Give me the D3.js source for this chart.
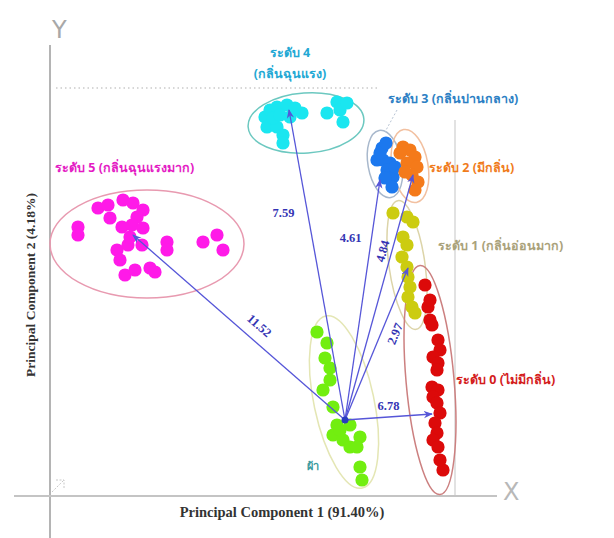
<!DOCTYPE html>
<html>
<head>
<meta charset="utf-8">
<script src="https://cdn.jsdelivr.net/npm/d3@7"></script>
<style>
  html, body { margin: 0; padding: 0; background: #fff; }
  svg { display: block; }
  .thai { font-family: "Noto Sans", "DejaVu Sans", sans-serif; font-weight: bold; }
</style>
</head>
<body>
<svg id="chart" width="614" height="538"></svg>
<script>
// PCA score plot: odour levels of the samples, with distances from the cloth cluster

const groups = ["ระดับ 5", "ระดับ 4", "ระดับ 3", "ระดับ 2", "ระดับ 1", "ระดับ 0", "ผ้า"];
const groupLabels = [
  "ระดับ 5 (กลิ่นฉุนแรงมาก)",
  "ระดับ 4|(กลิ่นฉุนแรง)",
  "ระดับ 3 (กลิ่นปานกลาง)",
  "ระดับ 2 (มีกลิ่น)",
  "ระดับ 1 (กลิ่นอ่อนมาก)",
  "ระดับ 0 (ไม่มีกลิ่น)",
  "ผ้า"
];

// scores [PC1, PC2] per group
const level5 = [[-24.7,21.2],[-23.7,21.5],[-23.5,20.2],[-22.2,22.0],[-21.2,21.7],[-20.2,21.0],[-20.8,20.3],
  [-22.3,19.3],[-21.3,19.5],[-20.2,19.2],[-26.7,19.3],[-26.7,18.5],[-22.8,17.0],[-21.7,17.5],[-20.3,17.5],
  [-22.5,16.0],[-22.0,14.5],[-21.0,15.0],[-19.5,15.2],[-19.0,14.8],[-17.8,17.8],[-17.8,17.0],[-14.2,17.8],
  [-12.8,18.5],[-12.2,17.0],[-21.5,18.3]];
const level4 = [[-8.0,30.3],[-7.5,31.0],[-6.8,31.3],[-5.8,31.5],[-5.5,30.3],[-4.3,30.7],[-7.8,29.3],
  [-6.8,29.3],[-6.2,28.5],[-6.2,27.7],[-7.2,30.2],[-1.8,30.7],[-0.8,31.8],[-0.5,31.0],[-0.2,29.8],
  [0.2,31.7],[-5.0,31.2],[-6.5,30.5]];
const level3 = [[3.7,27.2],[3.2,26.0],[3.8,26.0],[4.5,25.7],[4.2,25.0],[4.8,24.3],[4.7,23.3],[3.5,26.7],
  [4.0,24.2],[5.0,25.3],[4.1,27.7]];
const level2 = [[5.8,27.3],[6.5,27.0],[7.0,26.3],[6.2,25.7],[7.2,25.3],[6.7,24.5],[7.3,23.8],[7.0,23.0],
  [5.5,26.7],[6.0,24.8]];
const level1 = [[4.8,20.7],[6.2,20.3],[6.8,19.8],[5.8,18.3],[6.2,17.5],[5.7,16.3],[6.2,15.3],[6.3,14.3],
  [6.3,12.3],[6.7,11.3],[7.0,10.7],[6.5,13.3]];
const level0 = [[8.0,13.5],[8.3,11.3],[8.5,10.0],[8.7,9.5],[9.3,8.0],[9.5,7.0],[8.8,6.3],[9.3,5.7],
  [9.2,5.0],[8.7,3.3],[9.3,3.0],[8.8,2.3],[9.2,1.7],[9.5,0.7],[9.0,-0.3],[9.2,-1.3],[8.8,-2.0],
  [9.3,-2.7],[9.8,-5.0],[9.5,-4.0],[8.5,12.0]];
const cloth = [[-2.8,8.8],[-1.8,7.7],[-2.0,6.2],[-1.5,5.2],[-1.5,4.0],[-1.2,1.3],[-0.8,-0.5],[-1.2,-1.5],
  [0.5,-0.5],[1.5,-1.7],[-0.2,-2.0],[0.5,-2.7],[1.2,-2.7],[1.5,-4.7],[1.7,-6.0],[-0.5,-1.0],[-2.2,3.0]];

// cluster centres used as arrow targets, and distance of each level from the cloth cluster
const centroids = [[-21.2,18.5],[-5.6,31.0],[3.5,24.0],[6.8,24.5],[6.3,15.2],[8.7,0.6]];
const clothCentre = [0, 0];
const distances = ["11.52", "7.59", "4.61", "4.84", "2.97", "6.78"];

// enclosing ellipses: centre, radii (score units), tilt in degrees
const ellipses = [
  [[-19.8,17.6], 9.7, 5.4, 0],
  [[-3.9,29.7], 5.8, 3.0, -4],
  [[4.0,25.6], 1.7, 3.4, -10],
  [[6.5,25.4], 1.8, 3.7, -10],
  [[6.2,15.5], 1.8, 6.5, -8],
  [[8.5,4.0], 2.4, 11.5, -5],
  [[-0.1,1.8], 3.0, 8.8, -12]
];

const pointColors = ["#ff1ae8", "#1ae6f0", "#1c78ee", "#f47a1a", "#cccc10", "#dc0a0a", "#72ee10"];
const ringColors  = ["#e89ab0", "#6cc8c0", "#a8b8cc", "#f2c0a0", "#dcd4a8", "#cc8080", "#e4e6b4"];
const textColors  = ["#e41cc4", "#22a8d4", "#2c80c4", "#f07c1c", "#aaa27a", "#d41c1c", "#3c9ca0"];
const series = [level5, level4, level3, level2, level1, level0, cloth];

const svg = d3.select("#chart");
const x = d3.scaleLinear().domain([-29.5, 16]).range([50, 505]);
const y = d3.scaleLinear().domain([-7.6, 37.5]).range([496, 45]);
const k = x(1) - x(0); // pixels per score unit (same on both axes)

// frame: Y and X axis rules, dotted guide and right-hand guide
svg.append("line").attr("x1", x(-29.5)).attr("x2", x(-29.5)).attr("y1", 45).attr("y2", 538)
  .attr("stroke", "#b4b4b4").attr("stroke-width", 2);
svg.append("line").attr("x1", 14).attr("x2", 497).attr("y1", y(-7.6)).attr("y2", y(-7.6))
  .attr("stroke", "#c4c4c4").attr("stroke-width", 2);
svg.append("line").attr("x1", 56).attr("x2", 378).attr("y1", y(33.2)).attr("y2", y(33.2))
  .attr("stroke", "#b0b0b0").attr("stroke-width", 1.2).attr("stroke-dasharray", "1.5,3");
svg.append("line").attr("x1", x(11)).attr("x2", x(11)).attr("y1", 120).attr("y2", 495)
  .attr("stroke", "#cfcfcf").attr("stroke-width", 1.2);
svg.append("text").attr("x", 52).attr("y", 38).text("Y")
  .attr("font-family", "DejaVu Sans, sans-serif").attr("font-size", 24).attr("fill", "#a8a8a8");
svg.append("text").attr("x", 503).attr("y", 500).text("X")
  .attr("font-family", "DejaVu Sans, sans-serif").attr("font-size", 24).attr("fill", "#b8b8b8");
svg.append("path").attr("d", "M52,492 L64,480 M56,480 L64,480 L64,488")
  .attr("fill", "none").attr("stroke", "#c8c8c8").attr("stroke-width", 1).attr("stroke-dasharray", "2,1.5");

// axis titles
svg.append("text").attr("transform", "translate(35,285) rotate(-90)").attr("text-anchor", "middle")
  .attr("font-family", "Liberation Serif, serif").attr("font-weight", "bold").attr("font-size", 13.5)
  .attr("fill", "#333").text("Principal Component 2 (4.18%)");
svg.append("text").attr("x", 282).attr("y", 517).attr("text-anchor", "middle")
  .attr("font-family", "Liberation Serif, serif").attr("font-weight", "bold").attr("font-size", 14.5)
  .attr("fill", "#333").text("Principal Component 1 (91.40%)");

// cluster outlines
svg.append("g").selectAll("ellipse").data(ellipses).join("ellipse")
  .attr("cx", d => x(d[0][0])).attr("cy", d => y(d[0][1]))
  .attr("rx", d => d[1] * k).attr("ry", d => d[2] * k)
  .attr("transform", d => `rotate(${d[3]},${x(d[0][0])},${y(d[0][1])})`)
  .attr("fill", "none").attr("stroke", (d, i) => ringColors[i]).attr("stroke-width", 1.5);

// sample scores
series.forEach((pts, i) => {
  svg.append("g").selectAll("circle").data(pts).join("circle")
    .attr("cx", d => x(d[0])).attr("cy", d => y(d[1])).attr("r", 6.6)
    .attr("fill", pointColors[i]);
});

// distance arrows from the cloth cluster
const arrowColor = "#5656d8";
svg.append("defs").append("marker").attr("id", "head").attr("viewBox", "0 0 10 10")
  .attr("refX", 9).attr("refY", 5).attr("markerWidth", 7).attr("markerHeight", 7)
  .attr("orient", "auto").append("path").attr("d", "M0,1 L10,5 L0,9 L3,5 Z").attr("fill", arrowColor);

svg.append("g").selectAll("line").data(centroids).join("line")
  .attr("x1", x(clothCentre[0])).attr("y1", y(clothCentre[1]))
  .attr("x2", d => x(d[0])).attr("y2", d => y(d[1]))
  .attr("stroke", arrowColor).attr("stroke-width", 1.3).attr("marker-end", "url(#head)");
svg.append("circle").attr("cx", x(clothCentre[0])).attr("cy", y(clothCentre[1])).attr("r", 3.5)
  .attr("fill", "#2a3cc0");

// distance labels: fraction along the arrow, sideways offset (px), rotate with the arrow?
const distPlace = [[0.45, -15, true], [0.67, -24, false], [0.76, -21, false], [0.68, -9, true], [0.6, 13, true], [0.5, -11, false]];
svg.append("g").selectAll("text").data(centroids).join("text")
  .each(function (d, i) {
    const [t, off, rot] = distPlace[i];
    const x0 = x(clothCentre[0]), y0 = y(clothCentre[1]);
    const dx = x(d[0]) - x0, dy = y(d[1]) - y0;
    const len = Math.hypot(dx, dy);
    let px = x0 + dx * t, py = y0 + dy * t;
    if (rot) {
      // offset perpendicular to the arrow
      px += (dy / len) * off * (dx < 0 ? 1 : -1);
      py += (-dx / len) * off * (dx < 0 ? 1 : -1);
    } else if (Math.abs(dx) > Math.abs(dy)) {
      py += off;
    } else {
      px += off;
    }
    let ang = Math.atan2(dy, dx) * 180 / Math.PI;
    if (ang > 90) ang -= 180;
    if (ang < -90) ang += 180;
    d3.select(this).attr("transform", `translate(${px},${py}) rotate(${rot ? ang : 0})`);
  })
  .attr("text-anchor", "middle").attr("dy", "0.35em")
  .attr("font-family", "Liberation Serif, serif").attr("font-weight", "bold").attr("font-size", 12.5)
  .attr("fill", "#3434b4").text((d, i) => distances[i]);

// group captions: anchor (score units) and text alignment
const labelPlace = [[-29.0, 24.8, "start"], [-5.5, 36.3, "middle"], [4.3, 31.7, "start"], [8.4, 24.8, "start"], [9.3, 17.0, "start"], [11.1, 3.6, "start"], [-3.8, -5.0, "start"]];
const caps = svg.append("g");
groupLabels.forEach((lab, i) => {
  const [lx, ly, anchor] = labelPlace[i];
  const lines = lab.split("|");
  lines.forEach((ln, j) => {
    caps.append("text").attr("class", "thai")
      .attr("x", x(lx)).attr("y", y(ly) + j * 21)
      .attr("text-anchor", anchor).attr("font-size", i === 6 ? 11 : 12.5)
      .attr("fill", textColors[i]).text(ln);
  });
});
// leader from the level-3 caption to its cluster
svg.append("line").attr("x1", x(5.2)).attr("y1", y(31.0)).attr("x2", x(4.0)).attr("y2", y(28.8))
  .attr("stroke", "#b8c4d4").attr("stroke-width", 1).attr("stroke-dasharray", "2,2");
</script>
</body>
</html>
